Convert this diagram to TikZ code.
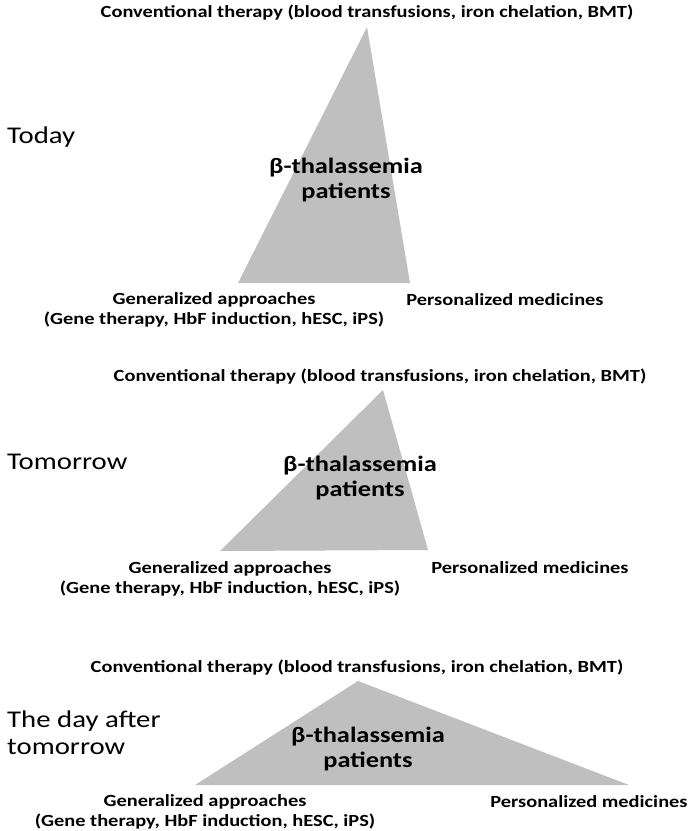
\documentclass[tikz,border=0pt]{standalone}
\usepackage{fontspec}
\setmainfont[FakeStretch=1.2]{Carlito}
\usepackage{tikz}
\usetikzlibrary{positioning}
\definecolor{trigray}{RGB}{191,191,191}

\tikzset{
  tri/.style={fill=trigray},
  corner/.style={font=\bfseries\fontsize{17}{20}\selectfont, align=center, inner sep=0pt},
  patients/.style={font=\bfseries\fontsize{22}{25}\selectfont, align=center, inner sep=0pt},
  era/.style={font=\fontsize{24}{27}\selectfont, align=left, anchor=west, inner sep=0pt}
}

\begin{document}
\begin{tikzpicture}[x=1pt, y=-1pt]
\useasboundingbox (0,0) rectangle (689,831);

%% today
\coordinate (topA) at (367,27);
\coordinate (leftA) at (238,283);
\coordinate (rightA) at (410,283);
\fill[tri] (topA) -- (leftA) -- (rightA) -- cycle;

\node[corner] (convA) at (367,13) {Conventional therapy (blood transfusions, iron chelation, BMT)};
\node[era] (today) at (7,137) {Today};
\node[patients] (patA) at (346,180) {β-thalassemia\\patients};
\node[corner] (genA) at (214,310) {Generalized approaches\\(Gene therapy, HbF induction, hESC, iPS)};
\node[corner] (persA) at (505,300) {Personalized medicines};

%% tomorrow
\coordinate (topB) at (383,390);
\coordinate (leftB) at (220,551);
\coordinate (rightB) at (428,550);
\fill[tri] (topB) -- (leftB) -- (rightB) -- cycle;

\node[corner] (convB) at (380,377) {Conventional therapy (blood transfusions, iron chelation, BMT)};
\node[era] (tomorrow) at (7,462) {Tomorrow};
\node[patients] (patB) at (360,478) {β-thalassemia\\patients};
\node[corner] (genB) at (230,579) {Generalized approaches\\(Gene therapy, HbF induction, hESC, iPS)};
\node[corner] (persB) at (530,568) {Personalized medicines};

%% the day after tomorrow
\coordinate (topC) at (358,681);
\coordinate (leftC) at (195,785);
\coordinate (rightC) at (629,785);
\fill[tri] (topC) -- (leftC) -- (rightC) -- cycle;

\node[corner] (convC) at (357,668) {Conventional therapy (blood transfusions, iron chelation, BMT)};
\node[era] (dayafter) at (7,733) {The day after\\tomorrow};
\node[patients] (patC) at (368,749) {β-thalassemia\\patients};
\node[corner] (genC) at (205,812) {Generalized approaches\\(Gene therapy, HbF induction, hESC, iPS)};
\node[corner] (persC) at (589,802) {Personalized medicines};

\end{tikzpicture}
\end{document}
